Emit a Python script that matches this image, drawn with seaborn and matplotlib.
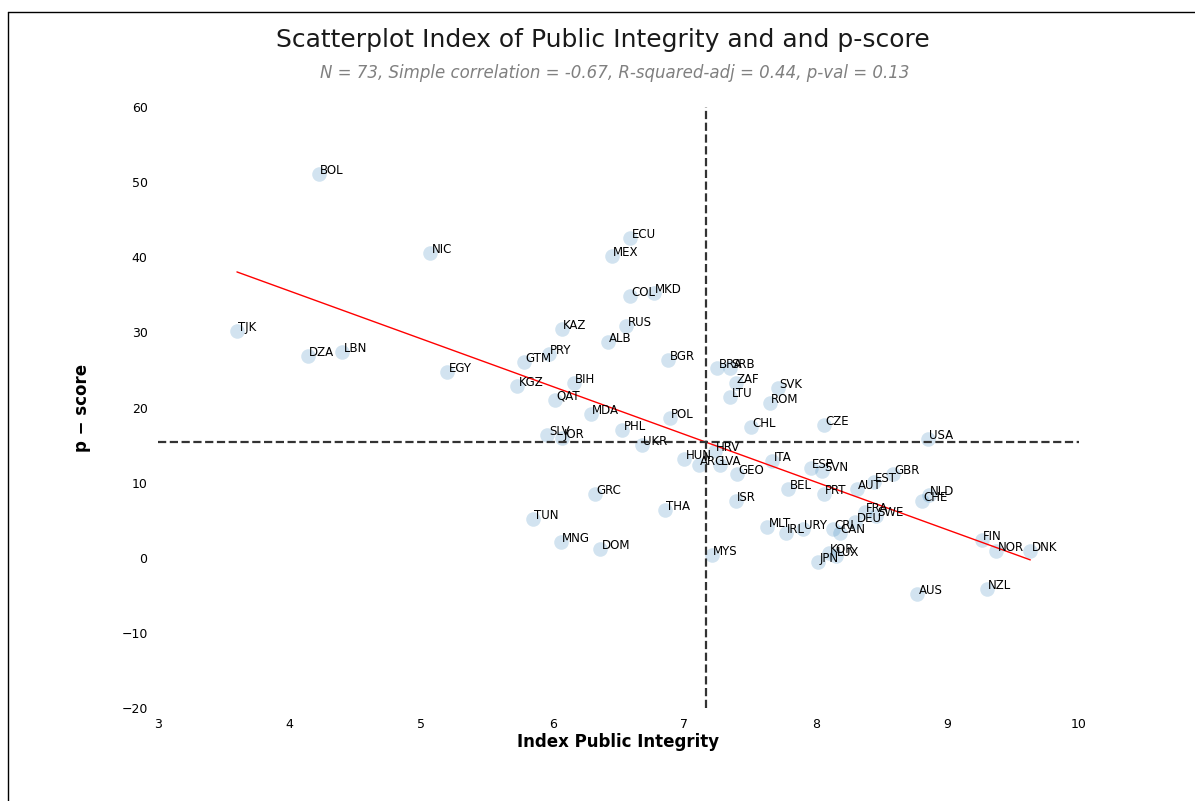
import numpy as np
import pandas as pd
import matplotlib
matplotlib.use("Agg")
import matplotlib.pyplot as plt
from matplotlib.lines import Line2D
import seaborn as sns

# values
countries = ["BOL", "NIC", "TJK", "DZA", "LBN", "EGY", "ECU", "MEX", "COL", "MKD",
             "KAZ", "RUS", "ALB", "GTM", "PRY", "BGR", "BRA", "SRB", "ZAF", "LTU",
             "SVK", "ROM", "KGZ", "BIH", "QAT", "MDA", "POL", "CHL", "CZE", "PHL",
             "SLV", "JOR", "UKR", "USA", "HUN", "ARG", "HRV", "LVA", "GEO", "ITA",
             "ESP", "SVN", "GBR", "EST", "AUT", "BEL", "PRT", "NLD", "CHE", "ISR",
             "FRA", "SWE", "DEU", "MLT", "IRL", "URY", "CRI", "CAN", "MYS", "KOR",
             "LUX", "JPN", "AUS", "NZL", "FIN", "NOR", "DNK", "GRC", "TUN", "THA",
             "MNG", "DOM"]
integrity = [4.22, 5.07, 3.60, 4.14, 4.40, 5.20, 6.59, 6.45, 6.59, 6.77,
             6.07, 6.56, 6.42, 5.78, 5.97, 6.88, 7.25, 7.35, 7.39, 7.35,
             7.71, 7.65, 5.73, 6.16, 6.02, 6.29, 6.89, 7.51, 8.06, 6.53,
             5.96, 6.07, 6.68, 8.85, 7.00, 7.11, 7.23, 7.27, 7.40, 7.67,
             7.96, 8.05, 8.59, 8.44, 8.31, 7.79, 8.06, 8.86, 8.81, 7.39,
             8.37, 8.46, 8.30, 7.63, 7.77, 7.90, 8.13, 8.18, 7.21, 8.10,
             8.15, 8.02, 8.77, 9.30, 9.26, 9.37, 9.63, 6.32, 5.85, 6.85,
             6.06, 6.36]
p_score = [51.1, 40.6, 30.2, 26.9, 27.4, 24.7, 42.5, 40.1, 34.8, 35.2,
           30.4, 30.9, 28.7, 26.0, 27.1, 26.3, 25.3, 25.3, 23.3, 21.4,
           22.6, 20.6, 22.8, 23.2, 21.0, 19.1, 18.6, 17.4, 17.7, 17.0,
           16.3, 15.9, 15.0, 15.8, 13.1, 12.4, 14.2, 12.4, 11.2, 12.9,
           11.9, 11.5, 11.2, 10.1, 9.1, 9.1, 8.5, 8.4, 7.6, 7.5,
           6.1, 5.5, 4.7, 4.1, 3.3, 3.8, 3.8, 3.3, 0.4, 0.6,
           0.2, -0.5, -4.8, -4.1, 2.4, 0.9, 0.9, 8.5, 5.2, 6.4,
           2.1, 1.2]

x_ticks = [3, 4, 5, 6, 7, 8, 9, 10]
y_ticks = [-20, -10, 0, 10, 20, 30, 40, 50, 60]

title = "Scatterplot Index of Public Integrity and and p-score"
subtitle = "N = 73, Simple correlation = -0.67, R-squared-adj = 0.44, p-val = 0.13"

df = pd.DataFrame({"country": countries, "ipi": integrity, "pscore": p_score})

sns.set_style("white")
plt.rcParams['font.family'] = ['DejaVu Sans']

W, H = 1195, 801
fig = plt.figure(figsize=(W / 100, H / 100), dpi=100)
ax = fig.add_axes([158 / W, 1 - 708 / H, (1079 - 158) / W, (708 - 107) / H])

sns.scatterplot(data=df, x="ipi", y="pscore", ax=ax, s=110, alpha=0.2,
                color="#1f77b4", linewidth=0)
sns.regplot(data=df, x="ipi", y="pscore", ax=ax, scatter=False, ci=None,
            color="red", line_kws={"linewidth": 1})

for _, row in df.iterrows():
    ax.text(row["ipi"] + 0.01, row["pscore"], row["country"], fontsize=8.5,
            color="black")

# mean lines
ax.axvline(df["ipi"].mean(), color="#333333", linestyle="--", linewidth=1.6)
ax.axhline(df["pscore"].mean(), color="#333333", linestyle="--", linewidth=1.6)

ax.set_xlim(3, 10)
ax.set_ylim(-20, 60)
ax.set_xticks(x_ticks)
ax.set_yticks(y_ticks)
ax.tick_params(labelsize=9, labelcolor="black", pad=4)
ax.set_xlabel("Index Public Integrity", fontsize=12, fontweight="bold",
              color="black", labelpad=1)
ax.set_ylabel("p \u2212 score", fontsize=12, fontweight="bold", color="black",
              labelpad=22)
sns.despine(ax=ax, left=True, bottom=True)

fig.text(603 / W, 1 - 40 / H, title, ha="center", va="center", fontsize=18,
         color="#1a1a1a")
fig.text(615 / W, 1 - 73 / H, subtitle, ha="center", va="center",
         fontsize=12, style="italic", color="grey")

# figure frame, cropped on the right and bottom
fig.add_artist(Line2D([8 / W, 8 / W], [0, 1 - 12 / H], transform=fig.transFigure,
                      color="black", linewidth=1))
fig.add_artist(Line2D([8 / W, 1], [1 - 12 / H, 1 - 12 / H], transform=fig.transFigure,
                      color="black", linewidth=1))

fig.savefig("out.png", dpi=100)
